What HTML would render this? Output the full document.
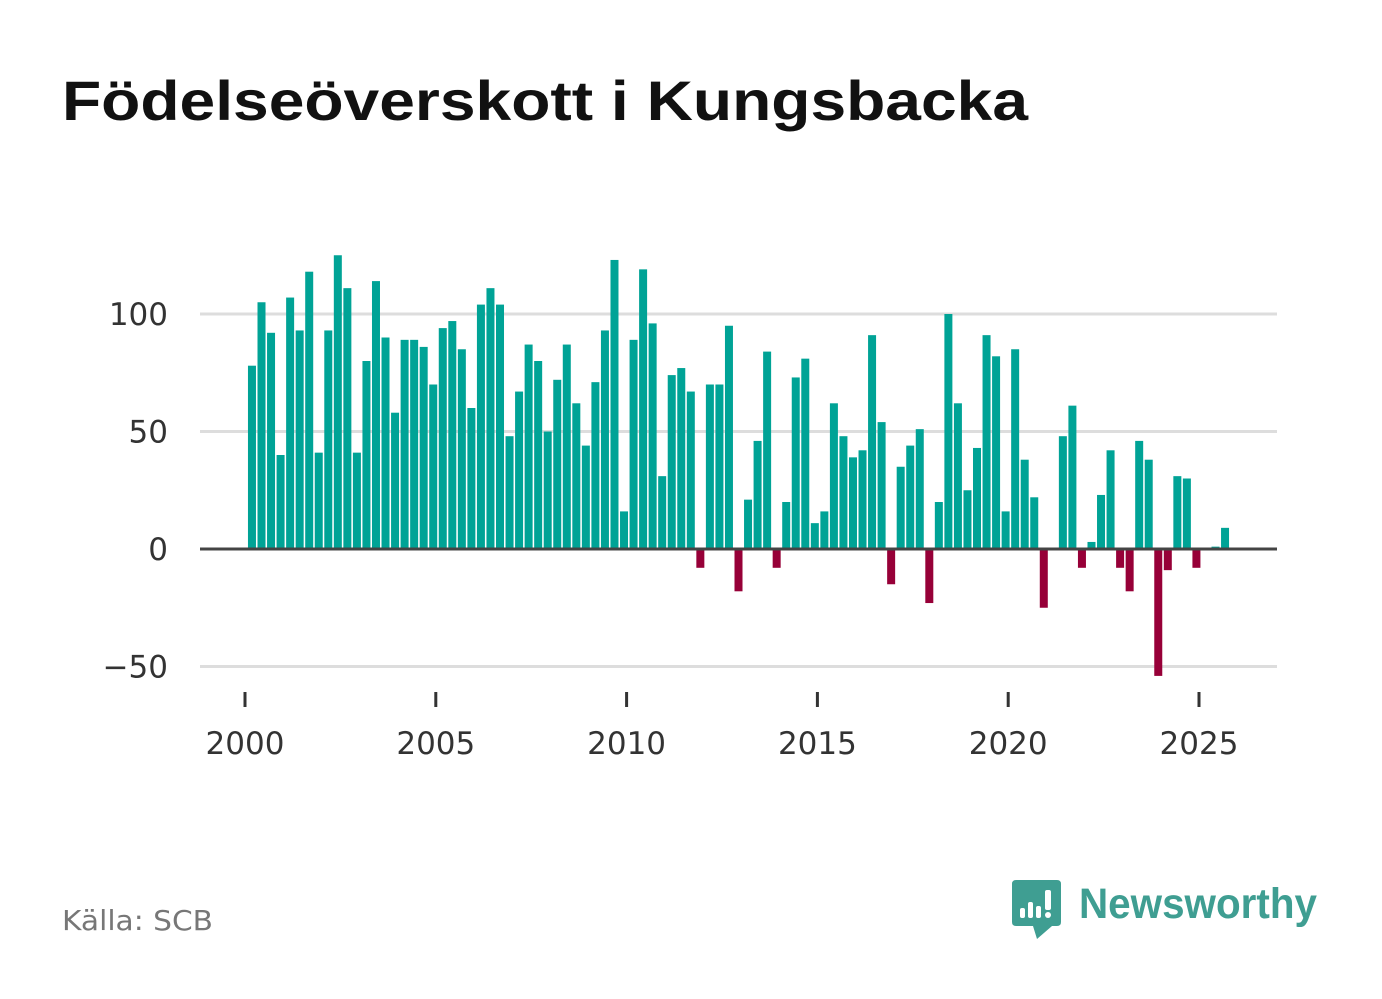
<!DOCTYPE html>
<html><head><meta charset="utf-8"><style>
html,body{margin:0;padding:0;background:#fff;}
svg{display:block;font-family:"Liberation Sans","DejaVu Sans",sans-serif;}
.lbl{font-family:"DejaVu Sans","Liberation Sans",sans-serif;}
</style></head><body>
<svg id="chart" width="1382" height="999" viewBox="0 0 1382 999">
<text x="62" y="120" font-size="56" font-weight="bold" fill="#111" textLength="966" lengthAdjust="spacingAndGlyphs">Födelseöverskott i Kungsbacka</text>
<g id="grid"></g>
<g id="bars"></g>
<g id="xaxis"></g>
<g id="yaxis"></g>
<text class="lbl" x="62" y="930" font-size="28" fill="#777" textLength="151" lengthAdjust="spacingAndGlyphs">Källa: SCB</text>
<g>
<path d="M1016 880 H1057 Q1061 880 1061 884 V922 Q1061 926 1057 926 H1052 L1037 939 L1033 926 H1016 Q1012 926 1012 922 V884 Q1012 880 1016 880 Z" fill="#3f9e92"/>
<rect x="1020" y="908" width="5" height="10" rx="2" fill="#fff"/>
<rect x="1028" y="902" width="5" height="16" rx="2" fill="#fff"/>
<rect x="1036" y="906" width="5" height="12" rx="2" fill="#fff"/>
<rect x="1045" y="890" width="6" height="20" rx="2" fill="#fff"/>
<circle cx="1048" cy="915" r="3" fill="#fff"/>
<text x="1079" y="918" font-size="43" font-weight="bold" fill="#3f9e92" textLength="238" lengthAdjust="spacingAndGlyphs">Newsworthy</text>
</g>
</svg>
<script>
const values = [78,105,92,40,107,93,118,41,93,125,111,41,80,114,90,58,89,89,86,70,94,97,85,60,104,111,104,48,67,87,80,50,
72,87,62,44,71,93,123,16,89,119,96,31,74,77,67,-8,70,70,95,-18,21,46,84,-8,20,73,81,11,16,62,48,39,42,91,54,-15,35,44,51,-23,
20,100,62,25,43,91,82,16,85,38,22,-25,0,48,61,-8,3,23,42,-8,-18,46,38,-54,-9,31,30,-8,0,1,9];
const startYear = 2000;
const yTicks = [-50,0,50,100];
const xTicks = [2000,2005,2010,2015,2020,2025];
const NS="http://www.w3.org/2000/svg";
function x(t){return 245+(t-2000)*38.16;}
function y(v){return 549-v*2.35;}
function mk(tag,attrs,parent){const e=document.createElementNS(NS,tag);for(const k in attrs)e.setAttribute(k,attrs[k]);parent.appendChild(e);return e;}
const grid=document.getElementById('grid'),bars=document.getElementById('bars'),xa=document.getElementById('xaxis'),ya=document.getElementById('yaxis');
yTicks.forEach(v=>{
  if(v!==0){const l=mk('line',{x1:200,x2:1277,y1:y(v),y2:y(v),stroke:'#dddddd','stroke-width':3},grid);
  
  }
  const t=mk('text',{x:168,y:y(v)+11,'font-size':31,fill:'#333','text-anchor':'end','class':'lbl'},ya);
  t.textContent=v<0?'\u2212'+Math.abs(v):String(v);
  
  
});
values.forEach((v,i)=>{
  const cx=x(startYear+(i+0.73)/4);
  const r=mk('rect',{x:cx-4,y:Math.min(y(v),y(0)),width:8,height:Math.abs(y(v)-y(0)),fill:v>=0?'#00a396':'#970038'},bars);
  
  
});
const zl=mk('line',{x1:200,x2:1277,y1:y(0),y2:y(0),stroke:'#444','stroke-width':3},xa);


xTicks.forEach(yr=>{
  const tk=mk('line',{x1:x(yr),x2:x(yr),y1:692,y2:707,stroke:'#333','stroke-width':3},xa);
  
  
  const t=mk('text',{x:x(yr),y:754,'font-size':31,fill:'#333','text-anchor':'middle','class':'lbl'},xa);
  t.textContent=yr;
  
  
});
</script>
</body></html>
